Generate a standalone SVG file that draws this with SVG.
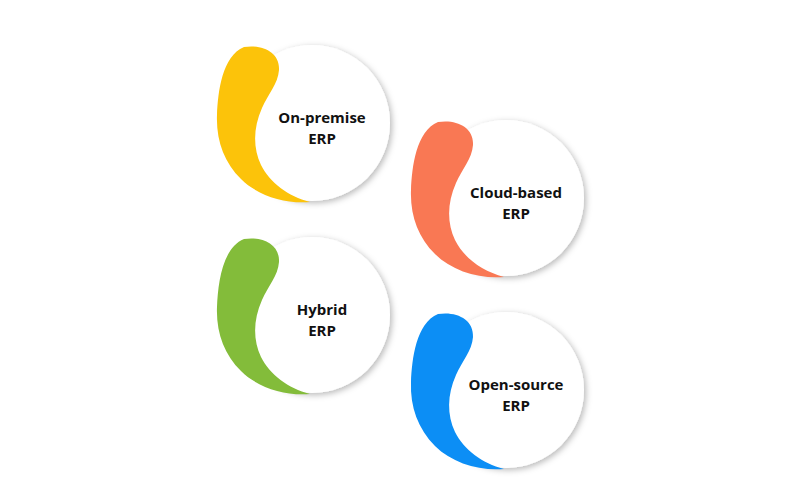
<svg xmlns="http://www.w3.org/2000/svg" width="800" height="500" viewBox="0 0 800 500">
<defs>
<filter id="sh" x="-20%" y="-20%" width="150%" height="150%">
<feDropShadow dx="2" dy="2" stdDeviation="3" flood-color="#000" flood-opacity="0.28"/>
</filter>
<path id="comma" d="M 244,47 C 262,44 280,52 279,70 C 278,84 268,94 262,108 C 253,128 253,148 261,165 C 270,183 288,196 310,202 C 285,204 258,196 241,179 C 224,162 216,140 217,115 C 218,92 222,56 244,47 Z"/>
</defs>
<style>
.disc{fill:#fff;filter:url(#sh)}
.lbl{font-family:"Open Sans","Liberation Sans",sans-serif;font-weight:700;font-size:15px;fill:#111;text-anchor:middle}
</style>
<rect width="800" height="500" fill="#fff"/>
<g id="on-premise">
<circle class="disc" cx="312" cy="123" r="78"/>
<use href="#comma" fill="#FCC30A"/>
<text class="lbl" x="322" y="123">On-premise</text>
<text class="lbl" x="322" y="144">ERP</text>
</g>
<g id="cloud-based" transform="translate(194,75)">
<circle class="disc" cx="312" cy="123" r="78"/>
<use href="#comma" fill="#F97854"/>
<text class="lbl" x="322" y="123">Cloud-based</text>
<text class="lbl" x="322" y="144">ERP</text>
</g>
<g id="hybrid" transform="translate(0,192)">
<circle class="disc" cx="312" cy="123" r="78"/>
<use href="#comma" fill="#83BC3A"/>
<text class="lbl" x="322" y="123">Hybrid</text>
<text class="lbl" x="322" y="144">ERP</text>
</g>
<g id="open-source" transform="translate(194,267)">
<circle class="disc" cx="312" cy="123" r="78"/>
<use href="#comma" fill="#0C8EF5"/>
<text class="lbl" x="322" y="123">Open-source</text>
<text class="lbl" x="322" y="144">ERP</text>
</g>
<g id="connectors"/>
</svg>
